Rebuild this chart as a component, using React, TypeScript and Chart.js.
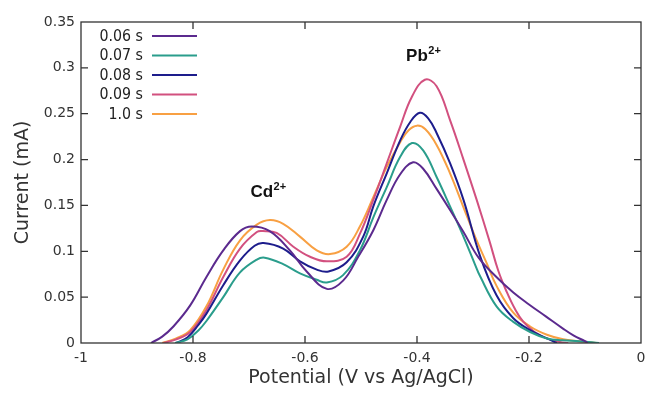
import React, { useEffect, useRef } from "react";
import { Chart, registerables } from "chart.js";

Chart.register(...registerables);

// ---------- data ----------
const seriesLabels = ["0.06 s", "0.07 s", "0.08 s", "0.09 s", "1.0 s"];
const seriesColors = ["#5b2a8e", "#2a9d8c", "#1d1d8c", "#d2507f", "#f8a043"];

const potential006 = [-0.875, -0.855, -0.835, -0.805, -0.776, -0.746, -0.716, -0.695, -0.663, -0.627, -0.597, -0.561, -0.532, -0.505, -0.478, -0.454, -0.43, -0.407, -0.389, -0.365, -0.341, -0.317, -0.29, -0.26, -0.228, -0.2, -0.17, -0.14, -0.12, -0.1, -0.095];
const current006 = [0, 0.007, 0.018, 0.041, 0.072, 0.101, 0.122, 0.127, 0.122, 0.101, 0.078, 0.059, 0.068, 0.094, 0.123, 0.156, 0.184, 0.197, 0.19, 0.168, 0.145, 0.121, 0.093, 0.073, 0.055, 0.042, 0.029, 0.016, 0.008, 0.002, 0];

const potential007 = [-0.832, -0.81, -0.79, -0.776, -0.746, -0.716, -0.686, -0.672, -0.639, -0.609, -0.579, -0.561, -0.532, -0.502, -0.478, -0.454, -0.43, -0.409, -0.389, -0.365, -0.341, -0.317, -0.296, -0.2875, -0.258, -0.228, -0.198, -0.168, -0.14, -0.11, -0.075];
const current007 = [0, 0.004, 0.014, 0.024, 0.05, 0.077, 0.091, 0.093, 0.086, 0.076, 0.069, 0.066, 0.074, 0.101, 0.137, 0.17, 0.203, 0.218, 0.21, 0.181, 0.149, 0.116, 0.085, 0.073, 0.04, 0.023, 0.012, 0.005, 0.003, 0.002, 0];

const potential008 = [-0.83, -0.81, -0.79, -0.776, -0.746, -0.716, -0.69, -0.674, -0.639, -0.609, -0.579, -0.558, -0.5256, -0.496, -0.478, -0.454, -0.43, -0.412, -0.395, -0.38, -0.365, -0.341, -0.317, -0.2875, -0.258, -0.228, -0.198, -0.168, -0.15];
const current008 = [0, 0.006, 0.02, 0.032, 0.063, 0.09, 0.106, 0.109, 0.103, 0.089, 0.08, 0.078, 0.088, 0.116, 0.149, 0.185, 0.221, 0.241, 0.251, 0.245, 0.229, 0.196, 0.156, 0.095, 0.052, 0.027, 0.014, 0.005, 0];

const potential009 = [-0.853, -0.83, -0.805, -0.776, -0.746, -0.716, -0.686, -0.675, -0.6506, -0.6208, -0.591, -0.561, -0.5256, -0.502, -0.478, -0.454, -0.43, -0.4095, -0.386, -0.365, -0.341, -0.317, -0.2934, -0.27, -0.255, -0.24, -0.225, -0.21, -0.19, -0.168, -0.145, -0.13];
const current009 = [0, 0.004, 0.012, 0.036, 0.072, 0.103, 0.121, 0.122, 0.12, 0.105, 0.094, 0.089, 0.094, 0.119, 0.156, 0.196, 0.236, 0.268, 0.287, 0.28, 0.243, 0.2, 0.156, 0.11, 0.079, 0.056, 0.037, 0.023, 0.012, 0.005, 0.001, 0];

const potential10 = [-0.855, -0.83, -0.805, -0.776, -0.746, -0.716, -0.686, -0.6625, -0.639, -0.609, -0.579, -0.5553, -0.5256, -0.502, -0.478, -0.454, -0.43, -0.415, -0.4, -0.385, -0.365, -0.341, -0.317, -0.295, -0.2756, -0.2577, -0.228, -0.198, -0.168, -0.139, -0.11, -0.08];
const current10 = [0, 0.005, 0.014, 0.04, 0.08, 0.112, 0.129, 0.134, 0.13, 0.116, 0.101, 0.097, 0.105, 0.127, 0.159, 0.192, 0.219, 0.232, 0.237, 0.233, 0.216, 0.185, 0.148, 0.114, 0.087, 0.062, 0.033, 0.018, 0.009, 0.004, 0.002, 0];

const seriesPotentials = [potential006, potential007, potential008, potential009, potential10];
const seriesCurrents = [current006, current007, current008, current009, current10];

const xTickValues = [-1, -0.8, -0.6, -0.4, -0.2, 0];
const xTickLabels = ["-1", "-0.8", "-0.6", "-0.4", "-0.2", "0"];
const yTickValues = [0, 0.05, 0.1, 0.15, 0.2, 0.25, 0.3, 0.35];
const yTickLabels = ["0", "0.05", "0.1", "0.15", "0.2", "0.25", "0.3", "0.35"];

const xTitle = "Potential (V vs Ag/AgCl)";
const yTitle = "Current (mA)";

// annotation labels: [main, superscript, potential, current]
const peakLabels: [string, string, number, number][] = [
  ["Cd", "2+", -0.6975, 0.159],
  ["Pb", "2+", -0.4195, 0.307],
];

const FONT = "'DejaVu Sans', Verdana, sans-serif";
const AXIS_COLOR = "#333333";

const decorPlugin = {
  id: "decor",
  afterDraw(chart: any) {
    const { ctx, chartArea } = chart;
    const { left, right, top, bottom } = chartArea;
    const xs = chart.scales.x;
    const ys = chart.scales.y;
    ctx.save();
    // frame
    ctx.strokeStyle = AXIS_COLOR;
    ctx.lineWidth = 1.3;
    ctx.strokeRect(left, top, right - left, bottom - top);
    // inward ticks on all four sides
    const tl = 7;
    ctx.beginPath();
    xTickValues.forEach((v) => {
      const px = xs.getPixelForValue(v);
      if (px > left + 1 && px < right - 1) {
        ctx.moveTo(px, bottom);
        ctx.lineTo(px, bottom - tl);
        ctx.moveTo(px, top);
        ctx.lineTo(px, top + tl);
      }
    });
    yTickValues.forEach((v) => {
      const py = ys.getPixelForValue(v);
      if (py > top + 1 && py < bottom - 1) {
        ctx.moveTo(left, py);
        ctx.lineTo(left + tl, py);
        ctx.moveTo(right, py);
        ctx.lineTo(right - tl, py);
      }
    });
    ctx.stroke();

    // legend (text right-aligned, sample line to the right)
    const textRight = 143;
    const lineX0 = 152;
    const lineX1 = 197;
    const rowY0 = 36;
    const rowGap = 19.5;
    seriesLabels.forEach((lab, i) => {
      const y = rowY0 + i * rowGap;
      ctx.save();
      ctx.font = `16.5px ${FONT}`;
      ctx.fillStyle = "#222222";
      ctx.textAlign = "right";
      ctx.textBaseline = "middle";
      ctx.translate(textRight, y + 0.5);
      ctx.scale(0.86, 1);
      ctx.fillText(lab, 0, 0);
      ctx.restore();
      ctx.beginPath();
      ctx.strokeStyle = seriesColors[i];
      ctx.lineWidth = 2;
      ctx.moveTo(lineX0, y);
      ctx.lineTo(lineX1, y);
      ctx.stroke();
    });

    // peak annotations
    peakLabels.forEach(([main, sup, xv, yv]) => {
      const px = xs.getPixelForValue(xv);
      const py = ys.getPixelForValue(yv);
      ctx.fillStyle = "#111111";
      ctx.textAlign = "left";
      ctx.textBaseline = "alphabetic";
      ctx.font = `bold 17px 'Liberation Sans', Arial, sans-serif`;
      ctx.fillText(main, px, py);
      const w = ctx.measureText(main).width;
      ctx.font = `bold 11px 'Liberation Sans', Arial, sans-serif`;
      ctx.fillText(sup, px + w + 0.5, py - 7);
    });
    ctx.restore();
  },
};

export default function App() {
  const canvasRef = useRef<HTMLCanvasElement | null>(null);

  useEffect(() => {
    if (!canvasRef.current) return;
    const datasets = seriesLabels.map((lab, i) => ({
      label: lab,
      data: seriesPotentials[i].map((x, j) => ({ x, y: seriesCurrents[i][j] })),
      borderColor: seriesColors[i],
      backgroundColor: seriesColors[i],
      borderWidth: 2,
      pointRadius: 0,
      fill: false,
      tension: 0.4,
    }));

    const chart = new Chart(canvasRef.current, {
      type: "line",
      data: { datasets },
      options: {
        animation: false,
        responsive: true,
        maintainAspectRatio: false,
        layout: { padding: { left: 0, right: 5, top: 22, bottom: 0 } },
        plugins: { legend: { display: false }, tooltip: { enabled: false } },
        scales: {
          x: {
            type: "linear",
            min: -1,
            max: 0,
            afterBuildTicks: (s: any) => {
              s.ticks = xTickValues.map((v) => ({ value: v }));
            },
            afterFit: (s: any) => {
              s.height = 52;
              s.paddingLeft = 0;
              s.paddingRight = 0;
            },
            ticks: {
              callback: (_v: any, i: number) => xTickLabels[i],
              font: { family: FONT, size: 14 },
              color: AXIS_COLOR,
              padding: 7,
              maxRotation: 0,
              autoSkip: false,
            },
            grid: { display: false, drawTicks: false },
            border: { display: false },
            title: {
              display: true,
              text: xTitle,
              font: { family: FONT, size: 19 },
              color: AXIS_COLOR,
              padding: { top: 0, bottom: 6 },
            },
          },
          y: {
            type: "linear",
            min: 0,
            max: 0.35,
            afterBuildTicks: (s: any) => {
              s.ticks = yTickValues.map((v) => ({ value: v }));
            },
            afterFit: (s: any) => {
              s.width = 81;
              s.paddingTop = 0;
              s.paddingBottom = 0;
            },
            ticks: {
              callback: (_v: any, i: number) => yTickLabels[i],
              font: { family: FONT, size: 14 },
              color: AXIS_COLOR,
              padding: 6,
              autoSkip: false,
            },
            grid: { display: false, drawTicks: false },
            border: { display: false },
            title: {
              display: true,
              text: yTitle,
              font: { family: FONT, size: 19 },
              color: AXIS_COLOR,
              padding: { top: 12, bottom: 0 },
            },
          },
        },
      },
      plugins: [decorPlugin],
    });
    return () => chart.destroy();
  }, []);

  return (
    <div style={{ position: "absolute", left: 0, top: 0, width: 646, height: 395, background: "#fff" }}>
      <canvas ref={canvasRef} />
    </div>
  );
}
